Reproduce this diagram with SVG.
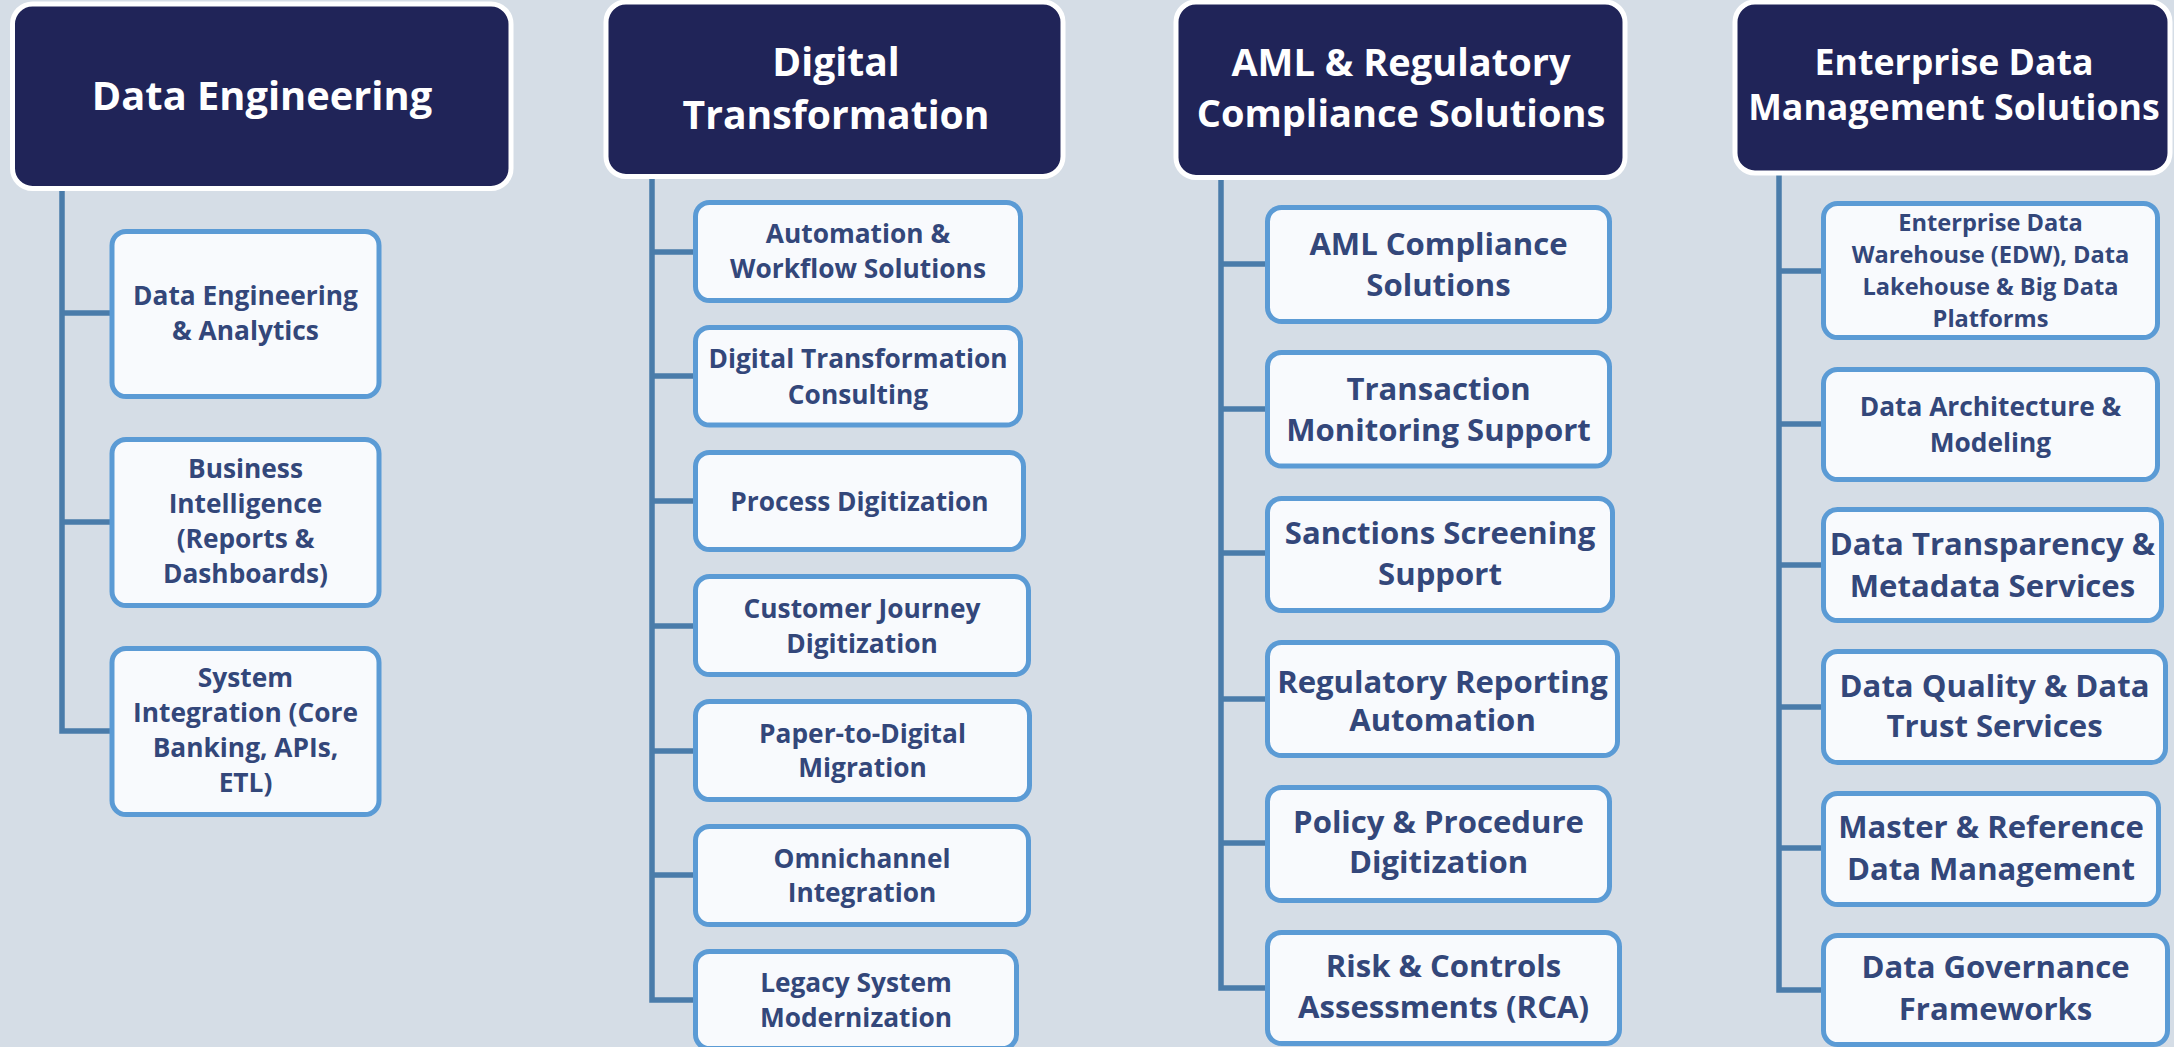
<svg xmlns="http://www.w3.org/2000/svg" width="2174" height="1047" viewBox="0 0 2174 1047">
<style>
.hdr{fill:#202458;stroke:#FFFFFF;stroke-width:5}
.box{fill:#F8FAFD;stroke:#5B9BD5;stroke-width:5}
.conn{fill:none;stroke:#4A7CAA;stroke-width:5.5;stroke-linejoin:miter}
.ht{fill:#FFFFFF;font-family:"Open Sans","Liberation Sans",sans-serif;font-weight:700;text-anchor:middle}
.bt{fill:#33477A;font-family:"Open Sans","Liberation Sans",sans-serif;font-weight:700;text-anchor:middle}
.s1{font-size:26.3px}
.s2{font-size:31.1px}
.s3{font-size:23.6px}
</style>
<rect x="0" y="0" width="2174" height="1047" fill="#D5DDE6"/>
<g id="connectors">
<path class="conn" d="M62,188 V731 H110 M62,313 H110 M62,522 H110"/>
<path class="conn" d="M652,176 V1000 H693 M652,252 H693 M652,376 H693 M652,501 H693 M652,626 H693 M652,751 H693 M652,875 H693"/>
<path class="conn" d="M1221,177 V988 H1265 M1221,264 H1265 M1221,409 H1265 M1221,553 H1265 M1221,699 H1265 M1221,843 H1265"/>
<path class="conn" d="M1779,173 V990 H1821 M1779,271 H1821 M1779,424 H1821 M1779,565 H1821 M1779,707 H1821 M1779,848 H1821"/>
</g>
<g id="h1"><rect class="hdr" x="12.5" y="4" width="498.5" height="184.5" rx="20"/><text class="ht" font-size="39.8" x="262" y="110">Data Engineering</text></g>
<g id="h2"><rect class="hdr" x="606" y="2" width="457" height="174.5" rx="20"/><text class="ht" font-size="39.1" x="836" y="76">Digital</text><text class="ht" font-size="39.1" x="836" y="129">Transformation</text></g>
<g id="h3"><rect class="hdr" x="1176" y="2" width="449" height="175.5" rx="20"/><text class="ht" font-size="38" x="1401" y="76">AML &amp; Regulatory</text><text class="ht" font-size="38" x="1401" y="127">Compliance Solutions</text></g>
<g id="h4"><rect class="hdr" x="1735" y="2" width="435" height="171" rx="20"/><text class="ht" font-size="35.7" x="1954" y="75">Enterprise Data</text><text class="ht" font-size="35.7" x="1954" y="120">Management Solutions</text></g>

<g id="c1b1"><rect class="box" x="112" y="231.5" width="267" height="165" rx="14"/><text class="bt s1" x="245.5" y="305">Data Engineering</text><text class="bt s1" x="245.5" y="340">&amp; Analytics</text></g>
<g id="c1b2"><rect class="box" x="112" y="439.5" width="267" height="166" rx="14"/><text class="bt s1" x="245.5" y="478">Business</text><text class="bt s1" x="245.5" y="513">Intelligence</text><text class="bt s1" x="245.5" y="548">(Reports &amp;</text><text class="bt s1" x="245.5" y="583">Dashboards)</text></g>
<g id="c1b3"><rect class="box" x="112" y="648.5" width="267" height="166" rx="14"/><text class="bt s1" x="245.5" y="687">System</text><text class="bt s1" x="245.5" y="722">Integration (Core</text><text class="bt s1" x="245.5" y="757">Banking, APIs,</text><text class="bt s1" x="245.5" y="792">ETL)</text></g>

<g id="c2b1"><rect class="box" x="695.5" y="202.5" width="325" height="98" rx="14"/><text class="bt s1" x="858" y="243">Automation &amp;</text><text class="bt s1" x="858" y="278">Workflow Solutions</text></g>
<g id="c2b2"><rect class="box" x="695.5" y="327.5" width="325" height="97.5" rx="14"/><text class="bt s1" x="858" y="368">Digital Transformation</text><text class="bt s1" x="858" y="403.5">Consulting</text></g>
<g id="c2b3"><rect class="box" x="695.5" y="452.5" width="328" height="97" rx="14"/><text class="bt s1" x="859.5" y="510.5">Process Digitization</text></g>
<g id="c2b4"><rect class="box" x="695.5" y="576.5" width="333" height="98" rx="14"/><text class="bt s1" x="862" y="618">Customer Journey</text><text class="bt s1" x="862" y="653">Digitization</text></g>
<g id="c2b5"><rect class="box" x="695.5" y="701.5" width="334" height="98" rx="14"/><text class="bt s1" x="862.5" y="743">Paper-to-Digital</text><text class="bt s1" x="862.5" y="777">Migration</text></g>
<g id="c2b6"><rect class="box" x="695.5" y="826.5" width="333" height="98" rx="14"/><text class="bt s1" x="862" y="868">Omnichannel</text><text class="bt s1" x="862" y="902">Integration</text></g>
<g id="c2b7"><rect class="box" x="695.5" y="951.5" width="321" height="97" rx="14"/><text class="bt s1" x="856" y="992">Legacy System</text><text class="bt s1" x="856" y="1027">Modernization</text></g>

<g id="c3b1"><rect class="box" x="1267.5" y="207.5" width="342" height="114" rx="14"/><text class="bt s2" x="1438.5" y="255">AML Compliance</text><text class="bt s2" x="1438.5" y="296">Solutions</text></g>
<g id="c3b2"><rect class="box" x="1267.5" y="352.5" width="342" height="113.5" rx="14"/><text class="bt s2" x="1438.5" y="400">Transaction</text><text class="bt s2" x="1438.5" y="441">Monitoring Support</text></g>
<g id="c3b3"><rect class="box" x="1267.5" y="498.5" width="345" height="112" rx="14"/><text class="bt s2" x="1440" y="543.5">Sanctions Screening</text><text class="bt s2" x="1440" y="585">Support</text></g>
<g id="c3b4"><rect class="box" x="1267.5" y="642.5" width="350" height="113" rx="14"/><text class="bt s2" x="1442.5" y="692.5">Regulatory Reporting</text><text class="bt s2" x="1442.5" y="730.5">Automation</text></g>
<g id="c3b5"><rect class="box" x="1267.5" y="787.5" width="342" height="113" rx="14"/><text class="bt s2" x="1438.5" y="833">Policy &amp; Procedure</text><text class="bt s2" x="1438.5" y="873">Digitization</text></g>
<g id="c3b6"><rect class="box" x="1267.5" y="932.5" width="352" height="111" rx="14"/><text class="bt s2" x="1443.5" y="977">Risk &amp; Controls</text><text class="bt s2" x="1443.5" y="1018">Assessments (RCA)</text></g>

<g id="c4b1"><rect class="box" x="1823.5" y="203.5" width="334" height="134" rx="14"/><text class="bt s3" x="1990.5" y="231">Enterprise Data</text><text class="bt s3" x="1990.5" y="262.5">Warehouse (EDW), Data</text><text class="bt s3" x="1990.5" y="295">Lakehouse &amp; Big Data</text><text class="bt s3" x="1990.5" y="327">Platforms</text></g>
<g id="c4b2"><rect class="box" x="1823.5" y="369.5" width="334" height="110" rx="14"/><text class="bt s1" x="1990.5" y="416">Data Architecture &amp;</text><text class="bt s1" x="1990.5" y="452">Modeling</text></g>
<g id="c4b3"><rect class="box" x="1823.5" y="509.5" width="338" height="111" rx="14"/><text class="bt s2" x="1992.5" y="555">Data Transparency &amp;</text><text class="bt s2" x="1992.5" y="597">Metadata Services</text></g>
<g id="c4b4"><rect class="box" x="1823.5" y="651.5" width="342" height="111" rx="14"/><text class="bt s2" x="1994.5" y="697">Data Quality &amp; Data</text><text class="bt s2" x="1994.5" y="737">Trust Services</text></g>
<g id="c4b5"><rect class="box" x="1823.5" y="793.5" width="335" height="111" rx="14"/><text class="bt s2" x="1991" y="838">Master &amp; Reference</text><text class="bt s2" x="1991" y="880">Data Management</text></g>
<g id="c4b6"><rect class="box" x="1823.5" y="935.5" width="344" height="109" rx="14"/><text class="bt s2" x="1995.5" y="978">Data Governance</text><text class="bt s2" x="1995.5" y="1020">Frameworks</text></g>
</svg>
